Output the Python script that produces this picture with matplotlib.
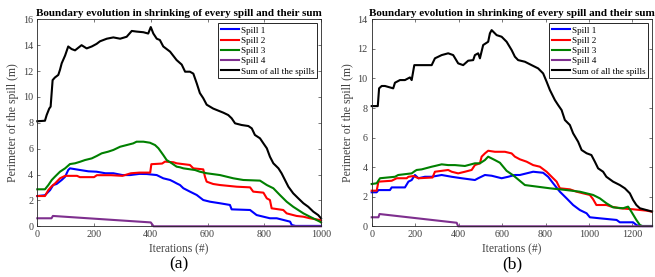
import matplotlib
matplotlib.use("Agg")
import matplotlib.pyplot as plt

plt.rcParams.update({
    "font.family": "Liberation Serif",
    "font.size": 7,
    "axes.linewidth": 0.6,
    "xtick.direction": "in",
    "ytick.direction": "in",
    "xtick.major.size": 2.5,
    "ytick.major.size": 2.5,
    "xtick.major.width": 0.5,
    "ytick.major.width": 0.5,
})

TITLE = "Boundary evolution in shrinking of every spill and their sum"
LABELS = ["Spill 1", "Spill 2", "Spill 3", "Spill 4", "Sum of all the spills"]
COLORS = ["#0000ff", "#ff0000", "#008000", "#7e2f8e", "#000000"]

# ---- panel (a): 1000 iterations ----
a_s1_it = [0, 27, 45, 56, 68, 86, 98, 109, 115, 151, 180, 209, 240, 268, 300, 327, 360,
           386, 421, 444, 468, 480, 491, 503, 515, 538, 562, 585, 609, 644, 679, 685,
           750, 773, 820, 844, 891, 897, 910, 1000]
a_s1 = [2.34, 2.4, 2.8, 3.19, 3.27, 3.58, 3.83, 4.35, 4.48, 4.35, 4.25, 4.22, 4.1, 4.1,
        3.96, 3.96, 4.05, 4.04, 3.96, 3.71, 3.58, 3.45, 3.32, 3.19, 2.94, 2.68, 2.42,
        2.03, 1.9, 1.78, 1.65, 1.31, 1.26, 0.87, 0.62, 0.62, 0.36, 0.1, 0.03, 0.03]

a_s2_it = [0, 27, 39, 51, 62, 80, 98, 140, 150, 200, 210, 260, 300, 330, 360, 398, 402,
           440, 450, 480, 491, 538, 550, 585, 591, 597, 620, 644, 703, 750, 761, 797,
           809, 820, 826, 867, 879, 914, 938, 961, 996, 1000]
a_s2 = [2.34, 2.34, 2.8, 3.1, 3.3, 3.71, 3.9, 3.9, 3.8, 3.8, 3.95, 3.95, 3.9, 4.1, 4.15,
        4.15, 4.8, 4.85, 5.0, 4.95, 4.87, 4.74, 4.48, 4.4, 3.83, 3.45, 3.27, 3.19, 3.06,
        3.01, 2.68, 2.6, 2.16, 2.03, 1.39, 1.26, 1.0, 0.8, 0.74, 0.62, 0.49, 0.45]

a_s3_it = [0, 27, 39, 51, 62, 80, 98, 115, 133, 151, 168, 192, 209, 227, 250, 268, 292,
           315, 338, 350, 374, 397, 415, 427, 444, 456, 474, 491, 503, 515, 556, 573,
           597, 644, 691, 726, 785, 809, 832, 855, 879, 902, 938, 961, 996, 1000]
a_s3 = [2.86, 2.86, 3.19, 3.58, 3.83, 4.22, 4.48, 4.81, 4.87, 4.99, 5.12, 5.25, 5.43,
        5.64, 5.77, 5.9, 6.15, 6.28, 6.41, 6.54, 6.54, 6.46, 6.28, 6.03, 5.51, 5.12,
        4.87, 4.61, 4.56, 4.48, 4.35, 4.22, 4.1, 3.96, 3.71, 3.58, 3.53, 3.19, 2.94,
        2.42, 1.9, 1.51, 1.0, 0.74, 0.36, 0.3]

a_s4_it = [0, 50, 55, 400, 410, 1000]
a_s4 = [0.62, 0.62, 0.8, 0.3, 0.0, 0.0]

a_sum_it = [0, 27, 33, 42, 47, 54, 62, 74, 80, 86, 92, 98, 109, 121, 133, 156, 174, 192,
            209, 221, 245, 268, 292, 315, 333, 350, 374, 391, 400, 409, 421, 432, 444,
            468, 491, 509, 521, 538, 550, 562, 573, 585, 597, 620, 656, 673, 685, 697,
            720, 744, 756, 767, 785, 797, 809, 820, 832, 850, 861, 873, 885, 902, 920,
            938, 955, 973, 990, 1000]
a_sum = [8.12, 8.16, 8.6, 9.1, 9.25, 11.3, 11.5, 11.7, 12.1, 12.6, 12.9, 13.2, 13.9,
         13.7, 13.6, 14.0, 13.75, 13.9, 14.1, 14.3, 14.5, 14.6, 14.5, 14.65, 15.1, 15.05,
         15.0, 14.9, 15.4, 14.9, 14.5, 14.4, 13.9, 13.5, 12.85, 12.5, 11.95, 11.95, 11.8,
         11.05, 10.3, 9.9, 9.4, 9.1, 8.78, 8.6, 8.35, 7.96, 7.83, 7.75, 7.57, 7.06, 6.8,
         6.41, 6.03, 5.38, 4.87, 4.48, 4.1, 3.58, 3.06, 2.55, 2.16, 1.78, 1.51, 1.13,
         0.87, 0.62]

# ---- panel (b): ~1300 iterations ----
b_s1_it = [0, 23, 31, 84, 92, 153, 169, 184, 199, 215, 245, 276, 322, 368, 414, 475,
           490, 521, 552, 598, 628, 659, 682, 743, 789, 812, 835, 866, 897, 927, 958,
           989, 1004, 1050, 1127, 1142, 1203, 1218, 1230, 1290]
b_s1 = [2.3, 2.3, 2.45, 2.45, 2.63, 2.63, 3.02, 3.13, 3.47, 3.25, 3.35, 3.35, 3.47,
        3.35, 3.25, 3.13, 3.25, 3.47, 3.42, 3.25, 3.35, 3.47, 3.47, 3.69, 3.62, 3.35,
        2.91, 2.34, 1.89, 1.44, 1.1, 0.88, 0.61, 0.54, 0.43, 0.27, 0.27, 0.09, 0.02, 0.02]

b_s2_it = [0, 23, 31, 92, 115, 161, 169, 192, 215, 280, 291, 352, 368, 398, 429, 460,
           475, 498, 506, 521, 536, 567, 613, 644, 659, 682, 713, 743, 774, 805, 835,
           851, 866, 912, 943, 973, 1004, 1019, 1034, 1080, 1103, 1142, 1203, 1264, 1290]
b_s2 = [2.41, 2.41, 3.02, 3.08, 3.25, 3.25, 3.35, 3.4, 3.25, 3.3, 3.69, 3.81, 3.69,
        3.58, 3.69, 3.81, 4.14, 4.26, 4.71, 4.93, 5.11, 5.04, 5.04, 4.93, 4.71, 4.53,
        4.37, 4.14, 4.03, 3.69, 3.25, 3.02, 2.57, 2.5, 2.34, 2.23, 2.12, 1.83, 1.44,
        1.44, 1.33, 1.22, 1.15, 1.06, 0.99]

b_s3_it = [0, 23, 38, 107, 122, 184, 199, 207, 230, 276, 291, 322, 352, 383, 429, 475,
           498, 521, 536, 567, 590, 621, 651, 705, 820, 897, 958, 1019, 1050, 1080, 1111,
           1157, 1180, 1195, 1218, 1234, 1245, 1290]
b_s3 = [2.86, 2.91, 3.25, 3.35, 3.47, 3.58, 3.74, 3.81, 3.85, 4.03, 4.08, 4.19, 4.14,
        4.14, 4.08, 4.26, 4.26, 4.48, 4.71, 4.48, 4.3, 3.75, 3.45, 2.79, 2.57, 2.45,
        2.34, 2.12, 1.89, 1.56, 1.28, 1.22, 1.33, 0.99, 0.43, 0.09, 0.02, 0.02]

b_s4_it = [0, 31, 36, 391, 398, 1290]
b_s4 = [0.61, 0.61, 0.83, 0.24, 0.0, 0.0]

b_sum_it = [0, 28, 34, 46, 61, 99, 107, 130, 153, 176, 184, 196, 230, 260, 276, 291,
            322, 352, 375, 398, 421, 444, 467, 475, 490, 498, 513, 536, 544, 552, 575,
            598, 621, 644, 659, 674, 705, 736, 766, 789, 805, 820, 843, 858, 874, 889,
            912, 927, 950, 966, 989, 1011, 1027, 1042, 1065, 1080, 1111, 1142, 1165,
            1188, 1203, 1218, 1234, 1264, 1290]
b_sum = [8.13, 8.13, 9.33, 9.49, 9.49, 9.33, 9.71, 9.89, 9.89, 10.07, 9.89, 10.9, 10.9,
         10.9, 10.9, 11.36, 11.58, 11.7, 11.58, 11.02, 10.9, 11.2, 11.24, 11.58, 11.7,
         11.36, 12.26, 12.48, 13.05, 13.27, 12.93, 12.82, 12.48, 11.92, 11.47, 11.24,
         11.13, 10.9, 10.68, 10.34, 9.78, 9.22, 8.54, 8.2, 7.86, 7.19, 6.85, 6.29, 5.72,
         5.16, 4.94, 4.82, 4.37, 3.92, 3.69, 3.35, 3.02, 2.79, 2.57, 2.23, 1.78, 1.44,
         1.22, 1.1, 1.0]

panels = [
    dict(series=[(a_s1_it, a_s1), (a_s2_it, a_s2), (a_s3_it, a_s3), (a_s4_it, a_s4),
                 (a_sum_it, a_sum)],
         xlim=1000, ylim=16, caption="(a)"),
    dict(series=[(b_s1_it, b_s1), (b_s2_it, b_s2), (b_s3_it, b_s3), (b_s4_it, b_s4),
                 (b_sum_it, b_sum)],
         xlim=1290, ylim=14, caption="(b)"),
]

W, H = 655, 277
fig = plt.figure(figsize=(W / 100, H / 100), dpi=100)
boxes = [(37.3, 321.0), (371.7, 652.0)]
top_px, bot_px = 19.3, 226.3

for (x0, x1), p in zip(boxes, panels):
    ax = fig.add_axes([x0 / W, (H - bot_px) / H, (x1 - x0) / W, (bot_px - top_px) / H])
    for (it, val), lab, col in zip(p["series"], LABELS, COLORS):
        ax.plot(it, val, color=col, lw=1.5, label=lab, clip_on=False)
    ax.set_xlim(0, p["xlim"])
    ax.set_ylim(0, p["ylim"])
    ax.set_xticks(range(0, p["xlim"] + 1, 200))
    ax.set_yticks(range(0, p["ylim"] + 1, 2))
    ax.tick_params(top=True, right=True, labelsize=7.3, colors="#404040", pad=3)
    for s in ax.spines.values():
        s.set_color("#262626")
    ax.set_title(TITLE, fontsize=8, fontweight="bold", pad=2.5)
    ax.set_xlabel("Iterations (#)", fontsize=8.3, color="#404040", labelpad=3)
    ax.set_ylabel("Perimeter of the spill (m)", fontsize=8.5, color="#404040", labelpad=2.5)
    leg = ax.legend(loc="upper right", fontsize=6.6, handlelength=2.0, handletextpad=0.15,
                    labelspacing=0.2, borderpad=0.3, borderaxespad=0.45,
                    fancybox=False, framealpha=1, edgecolor="#262626")
    leg.get_frame().set_linewidth(0.7)
    fig.text((x0 + x1) / 2 / W, 1 - 264 / H, p["caption"], fontsize=12.5,
             ha="center", va="center")

fig.savefig("out.png", dpi=100)
